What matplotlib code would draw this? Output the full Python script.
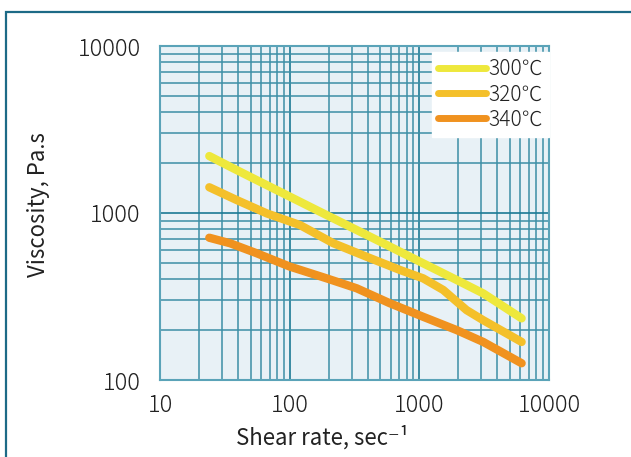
import matplotlib
matplotlib.use("Agg")
import matplotlib.pyplot as plt
from matplotlib.patches import Rectangle
import numpy as np

plt.rcParams['font.family'] = ['Noto Sans CJK JP', 'DejaVu Sans']
plt.rcParams['font.weight'] = 'light'

# Data
shear_300 = [24, 34.7, 49.4, 89, 161, 292, 527, 952, 1722, 3111, 6150]
visc_300 = [2193, 1893, 1649, 1312, 1042, 828, 659, 523, 416, 330, 234]

shear_320 = [24, 39, 66.5, 120, 217, 392, 708, 1071, 1529, 2315, 3111, 6150]
visc_320 = [1426, 1196, 995, 847, 659, 547, 456, 406, 346, 262, 228, 169]

shear_340 = [24, 34.7, 55.7, 100, 193, 329, 593, 1071, 1941, 3111, 6150]
visc_340 = [711, 659, 574, 478, 406, 354, 288, 239, 199, 169, 126]

labels = ['300℃', '320℃', '340℃']
colors = ['#eee83c', '#f4c02a', '#f0921f']
xticks = [10, 100, 1000, 10000]
yticks = [100, 1000, 10000]

W, H = 631, 457
fig = plt.figure(figsize=(W / 100, H / 100), dpi=100)
ax = fig.add_axes([160 / W, 1 - 380 / H, (549 - 160) / W, (380 - 46) / H])
ax.set_facecolor('#e8f1f6')

for xs, ys, lab, c in zip([shear_300, shear_320, shear_340],
                          [visc_300, visc_320, visc_340], labels, colors):
    ax.plot(xs, ys, color=c, lw=6, solid_capstyle='round',
            solid_joinstyle='round', label=lab, zorder=3)

ax.set_xscale('log')
ax.set_yscale('log')
ax.set_xlim(10, 10000)
ax.set_ylim(100, 10000)
ax.set_xticks(xticks)
ax.set_xticklabels([str(t) for t in xticks])
ax.set_yticks(yticks)
ax.set_yticklabels([str(t) for t in yticks])
ax.minorticks_on()
ax.tick_params(which='both', length=0)
ax.tick_params(axis='x', which='major', pad=9, labelsize=17, labelcolor='#222222')
ax.tick_params(axis='y', which='major', pad=14, labelsize=17, labelcolor='#222222')
ax.xaxis.set_minor_formatter(matplotlib.ticker.NullFormatter())
ax.yaxis.set_minor_formatter(matplotlib.ticker.NullFormatter())

ax.grid(True, which='major', color='#1b7a94', lw=1.2, zorder=1)
ax.grid(True, which='minor', color='#3c8fa6', lw=1.1, zorder=1)
ax.set_axisbelow(True)
for s in ax.spines.values():
    s.set_color('#5aa3b8')
    s.set_linewidth(1.5)

ax.set_xlabel('Shear rate, sec⁻¹', fontsize=16, color='#222222')
ax.xaxis.set_label_coords((322 - 160) / 389, -(437 - 380) / 334)
ax.xaxis.label.set_va('center')
ax.set_ylabel('Viscosity, Pa.s', fontsize=16, color='#222222')
ax.yaxis.set_label_coords(-(160 - 39) / 389, (380 - 205) / 334)
ax.yaxis.label.set_va('center')

leg = ax.legend(loc='upper right', bbox_to_anchor=(1.0, 1 - 6 / 334),
                borderaxespad=0, frameon=True, fancybox=False,
                fontsize=15, handlelength=2.3, handletextpad=0.1,
                labelspacing=0.15, borderpad=0.3)
leg.get_frame().set_facecolor('white')
leg.get_frame().set_edgecolor('white')
leg.get_frame().set_alpha(1)
for t in leg.get_texts():
    t.set_color('#222222')
for l in leg.get_lines():
    l.set_linewidth(5)

frame = Rectangle((5.5 / W, -0.1), 1.2, 1 - 11.5 / H + 0.1,
                  transform=fig.transFigure, fill=False,
                  edgecolor='#1d6a86', lw=1.6)
fig.patches.append(frame)

fig.savefig('out.png', dpi=100, facecolor='white')
